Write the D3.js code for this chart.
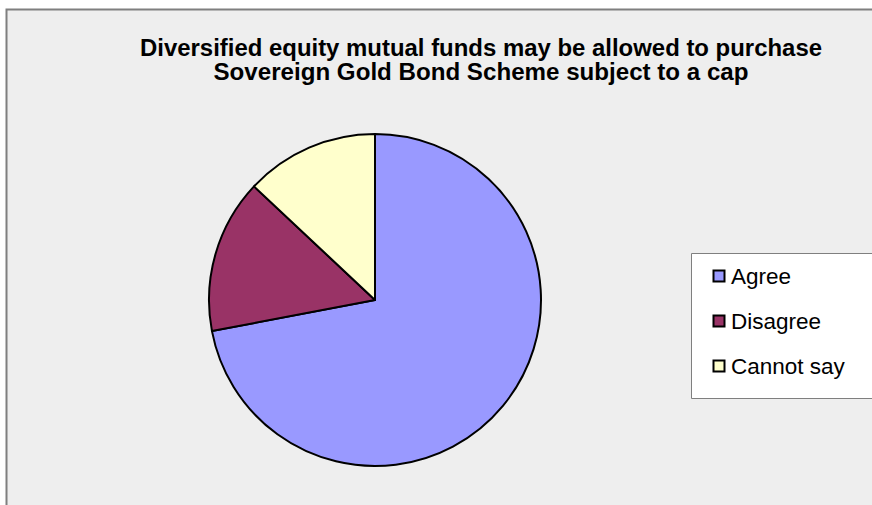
<!DOCTYPE html>
<html>
<head>
<meta charset="utf-8">
<script src="https://cdn.jsdelivr.net/npm/d3@7"></script>
<style>
  html, body { margin: 0; padding: 0; background: #ffffff; overflow: hidden; }
  svg { display: block; }
</style>
</head>
<body>
<svg id="chart" width="872" height="505"></svg>
<script>
// Survey responses (percent of respondents)
const categories = ["Agree", "Disagree", "Cannot say"];
const values = [72, 15, 13];
const colors = ["#9999ff", "#993366", "#ffffcc"];
const titleLines = [
  "Diversified equity mutual funds may be allowed to purchase",
  "Sovereign Gold Bond Scheme subject to a cap"
];

const svg = d3.select("#chart");
const W = 872, H = 505;

svg.append("rect").attr("width", W).attr("height", H).attr("fill", "#ffffff");

// Chart area panel: continues past the right and bottom edges,
// so only its top and left borders are drawn
svg.append("rect")
  .attr("x", 6).attr("y", 9)
  .attr("width", W - 6).attr("height", H - 9)
  .attr("fill", "#eeeeee");
svg.append("path")
  .attr("d", `M6.5,${H} V9.5 H${W}`)
  .attr("fill", "none")
  .attr("stroke", "#7f7f7f").attr("stroke-width", 2);

// Title
const title = svg.append("g").attr("font-family", "Liberation Sans, Arial, sans-serif")
  .attr("font-weight", "bold").attr("font-size", 23).attr("fill", "#000");
const titleWidths = [682, 535];
titleLines.forEach((t, i) => {
  title.append("text")
    .attr("x", 481).attr("y", 56 + i * 24)
    .attr("text-anchor", "middle")
    .attr("textLength", titleWidths[i])
    .attr("lengthAdjust", "spacingAndGlyphs")
    .text(t);
});

// Pie
const cx = 375, cy = 300, r = 166;
const pie = d3.pie().sort(null).value(d => d.v);
const arc = d3.arc().innerRadius(0).outerRadius(r);
const data = categories.map((c, i) => ({ c, v: values[i], col: colors[i] }));

svg.append("g").attr("transform", `translate(${cx},${cy})`)
  .selectAll("path").data(pie(data)).join("path")
  .attr("d", arc)
  .attr("fill", d => d.data.col)
  .attr("stroke", "#000").attr("stroke-width", 2)
  .attr("stroke-linejoin", "round");

// Legend
const leg = svg.append("g");
leg.append("path")
  .attr("d", `M${W},253.5 H691.5 V398.5 H${W}`)
  .attr("fill", "#ffffff").attr("stroke", "#7f7f7f").attr("stroke-width", 1);

const rows = leg.selectAll("g.item").data(data).join("g")
  .attr("class", "item")
  .attr("transform", (d, i) => `translate(0,${284 + i * 45})`);
rows.append("rect")
  .attr("x", 713.5).attr("y", -13.5)
  .attr("width", 11).attr("height", 11)
  .attr("fill", d => d.col).attr("stroke", "#000").attr("stroke-width", 2);
rows.append("text")
  .attr("x", 731).attr("y", 0)
  .attr("font-family", "Liberation Sans, Arial, sans-serif")
  .attr("font-size", 22.5).attr("fill", "#000")
  .text(d => d.c);
</script>
</body>
</html>
